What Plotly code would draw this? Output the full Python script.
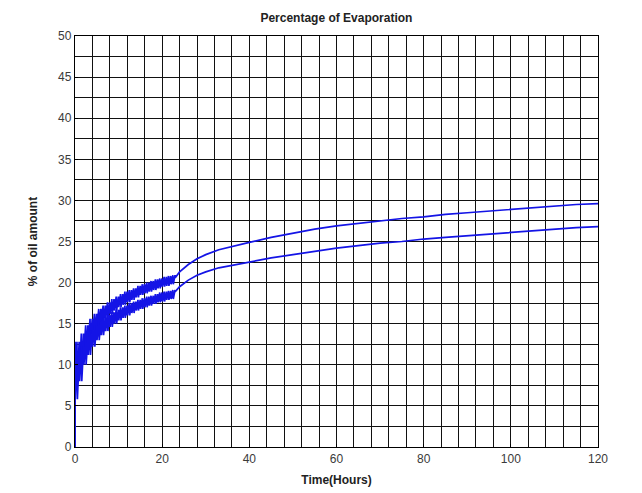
import plotly.graph_objects as go

# Early phase (0-23 h): per-hour crest and dip values of each run
hours = list(range(23))
upper_crest = [12.8, 13.8, 14.8, 15.6, 16.2, 16.8, 17.2, 17.6, 18.0, 18.3, 18.6, 18.9,
               19.1, 19.3, 19.6, 19.8, 20.0, 20.2, 20.4, 20.5, 20.7, 20.8, 20.9]
upper_dip = [7.5, 9.5, 11.5, 12.8, 13.8, 14.6, 15.2, 15.7, 16.2, 16.6, 17.0, 17.3,
             17.6, 17.9, 18.2, 18.5, 18.7, 18.9, 19.1, 19.3, 19.5, 19.6, 19.8]
lower_crest = [11.0, 12.2, 13.4, 14.2, 14.8, 15.3, 15.8, 16.1, 16.4, 16.7, 17.0, 17.2,
               17.5, 17.7, 17.9, 18.1, 18.3, 18.4, 18.6, 18.8, 18.9, 19.0, 19.1]
lower_dip = [5.8, 8.0, 10.0, 11.2, 12.2, 13.0, 13.6, 14.1, 14.6, 15.0, 15.4, 15.7,
             16.0, 16.3, 16.6, 16.8, 17.0, 17.2, 17.4, 17.6, 17.7, 17.9, 18.0]

# Later phase (23-120 h): smooth growth
late_time = [23, 24, 25, 26, 28, 30, 33, 36, 40, 45, 50, 55, 60, 65, 70, 75, 80,
             85, 90, 95, 100, 105, 110, 115, 120]
upper_late = [20.6, 21.3, 21.8, 22.2, 22.9, 23.4, 24.0, 24.4, 24.9, 25.5, 26.0, 26.5,
              26.9, 27.2, 27.5, 27.8, 28.0, 28.3, 28.5, 28.7, 28.9, 29.1, 29.3, 29.5, 29.6]
lower_late = [18.9, 19.5, 19.9, 20.3, 20.9, 21.3, 21.8, 22.1, 22.5, 23.0, 23.4, 23.8,
              24.2, 24.5, 24.8, 25.0, 25.3, 25.5, 25.7, 25.9, 26.1, 26.3, 26.5, 26.7, 26.8]

FONT = "Liberation Sans, Arial, sans-serif"


def build_series(crest, dip, late_vals):
    t = [0.0, 0.02]
    y = [0.0, crest[0]]
    for h, c, d in zip(hours, crest, dip):
        # two sawtooth cycles per hour: sharp drop, gradual recovery
        t += [h + 0.05, h + 0.45, h + 0.55, h + 0.95]
        y += [d, c, d, c]
    t += late_time
    y += late_vals
    return t, y


fig = go.Figure()
for crest, dip, late_vals in [(upper_crest, upper_dip, upper_late),
                              (lower_crest, lower_dip, lower_late)]:
    t, y = build_series(crest, dip, late_vals)
    fig.add_trace(go.Scatter(x=t, y=y, mode="lines",
                             line=dict(color="#1414e6", width=1.7),
                             showlegend=False, hoverinfo="skip"))

axis_common = dict(
    showline=True, linecolor="black", linewidth=1.3, mirror=True,
    showgrid=True, gridcolor="#111111", gridwidth=1.4,
    zeroline=False, ticks="inside", ticklen=3, tickcolor="black",
    tickfont=dict(family=FONT, size=12, color="#3a3a3a"),
    automargin=False,
)

fig.update_layout(
    width=642, height=493,
    margin=dict(l=75, r=44, t=36, b=46),
    paper_bgcolor="white", plot_bgcolor="white",
    title=dict(text="<b>Percentage of Evaporation</b>", x=0.524, xanchor="center",
               y=0.963, yanchor="middle",
               font=dict(family=FONT, size=12, color="#222222")),
    xaxis=dict(range=[0, 120], dtick=20, tick0=0,
               title=dict(text="<b>Time(Hours)</b>", standoff=11,
                          font=dict(family=FONT, size=12, color="#222222")),
               minor=dict(dtick=4, tick0=0, showgrid=True, gridcolor="#111111", gridwidth=1.4,
                          ticks=""),
               **axis_common),
    yaxis=dict(range=[0, 50], dtick=5, tick0=0,
               title=dict(text="<b>% of oil amount</b>", standoff=17,
                          font=dict(family=FONT, size=12, color="#222222")),
               minor=dict(dtick=2.5, tick0=0, showgrid=True, gridcolor="#111111", gridwidth=1.4,
                          ticks=""),
               **axis_common),
)

fig.write_html("out.html")
